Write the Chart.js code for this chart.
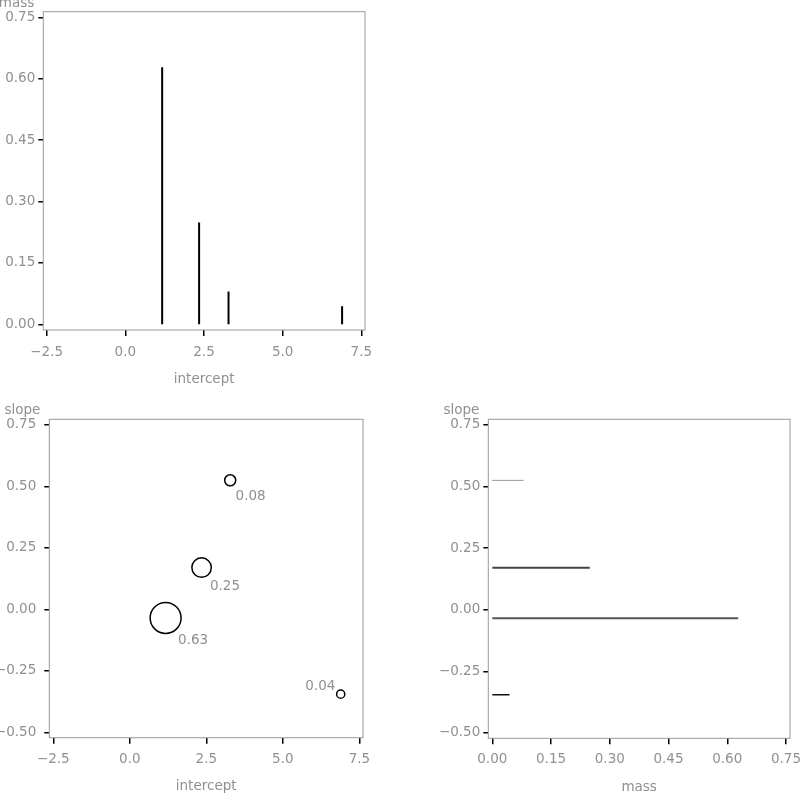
<!DOCTYPE html>
<html>
<head>
<meta charset="utf-8">
<script src="https://cdn.jsdelivr.net/npm/chart.js@4/dist/chart.umd.min.js"></script>
<style>
    body { margin: 0; background: #fff; }
    .panel { position: absolute; }
</style>
</head>
<body>
<div class="panel" style="left:0;top:0"><canvas id="massChart" width="380" height="395"></canvas></div>
<div class="panel" style="left:0;top:400px"><canvas id="slopeChart" width="380" height="395"></canvas></div>
<div class="panel" style="left:400px;top:400px"><canvas id="lineChart" width="400" height="395"></canvas></div>
<script>
// one entry per component: intercept, slope and mass
const intercepts = [1.17, 2.345, 3.28, 6.89];
const slopes = [-0.035, 0.17, 0.525, -0.345];
const masses = [0.628, 0.249, 0.08, 0.044];

const interceptTicks = [-2.5, 0, 2.5, 5, 7.5];
const massTicks = [0, 0.15, 0.3, 0.45, 0.6, 0.75];
const slopeTicks = [-0.5, -0.25, 0, 0.25, 0.5, 0.75];

// line styles for the mass segments (bottom right), same order as masses
const segmentColors = ['#555', '#444', '#999', '#111'];
const segmentWidths = [2, 2, 1, 1.5];

const GRAY = '#909090';
const FONT_FAMILY = 'DejaVu Sans';
const FONT_SIZE = 13.5;

Chart.defaults.font.family = FONT_FAMILY;
Chart.defaults.font.size = FONT_SIZE;
Chart.defaults.color = GRAY;

const fmt = (v, digits) => (v < 0 ? '\u2212' : '') + Math.abs(v).toFixed(digits);

function axis(range, ticks, digits, size, tickLength, padding) {
    return {
        type: 'linear',
        min: range[0],
        max: range[1],
        afterBuildTicks: s => { s.ticks = ticks.map(v => ({ value: v })); },
        afterFit: s => {
            // fixed box size, and no extra room asked for overhanging labels
            if (s.isHorizontal()) s.height = size;
            else s.width = size;
            s.paddingLeft = s.paddingRight = s.paddingTop = s.paddingBottom = 0;
        },
        grid: { drawOnChartArea: false, drawTicks: true, tickLength, color: '#000', lineWidth: 1.5 },
        border: { display: false },
        ticks: { padding, color: GRAY, autoSkip: false, maxRotation: 0, callback: v => fmt(v, digits) }
    };
}

// gray box round the plot area plus the two axis titles
const framePlugin = {
    id: 'frame',
    afterDraw(chart, args, opts) {
        const { ctx, chartArea: a } = chart;
        ctx.save();
        ctx.strokeStyle = '#999';
        ctx.lineWidth = 1;
        ctx.strokeRect(a.left, a.top, a.right - a.left, a.bottom - a.top);
        ctx.fillStyle = GRAY;
        ctx.font = `${FONT_SIZE}px "${FONT_FAMILY}"`;
        ctx.textAlign = 'center';
        ctx.textBaseline = 'middle';
        ctx.fillText(opts.xTitle, (a.left + a.right) / 2, a.bottom + 49);
        ctx.textAlign = 'right';
        ctx.textBaseline = 'alphabetic';
        ctx.fillText(opts.yTitle, a.left - 9, a.top - 5);
        ctx.restore();
    }
};

// mass labels next to the circles; flip to the upper left when there is no room
const bubbleLabelPlugin = {
    id: 'bubbleLabels',
    afterDatasetsDraw(chart) {
        const { ctx, chartArea: a } = chart;
        const meta = chart.getDatasetMeta(0);
        ctx.save();
        ctx.fillStyle = GRAY;
        ctx.font = `${FONT_SIZE}px "${FONT_FAMILY}"`;
        ctx.textBaseline = 'middle';
        meta.data.forEach((el, i) => {
            const text = masses[i].toFixed(2);
            const d = el.options.radius * Math.SQRT1_2;
            const w = ctx.measureText(text).width;
            if (el.x + d + 1.5 + w > a.right) {
                ctx.textAlign = 'right';
                ctx.fillText(text, el.x - d - 2.5, el.y - d - 5);
            } else {
                ctx.textAlign = 'left';
                ctx.fillText(text, el.x + d + 1.5, el.y + d + 12);
            }
        });
        ctx.restore();
    }
};

const baseOptions = {
    responsive: false,
    animation: false,
    events: [],
    plugins: { legend: { display: false }, tooltip: { enabled: false } }
};

// top left: mass spikes over intercept
new Chart(document.getElementById('massChart'), {
    type: 'scatter',
    data: {
        datasets: intercepts.map((x, i) => ({
            data: [{ x, y: 0 }, { x, y: masses[i] }],
            showLine: true,
            borderColor: '#000',
            borderWidth: 2,
            pointRadius: 0
        }))
    },
    options: {
        ...baseOptions,
        layout: { padding: { left: 0, top: 11.7, right: 15, bottom: 0 } },
        scales: {
            x: axis([-2.608, 7.618], interceptTicks, 1, 65, 6, 8),
            y: axis([-0.0139, 0.7637], massTicks, 2, 43.3, 5, 3)
        },
        plugins: { ...baseOptions.plugins, frame: { xTitle: 'intercept', yTitle: 'mass' } }
    },
    plugins: [framePlugin]
});

// bottom left: slope over intercept, circle area follows mass
new Chart(document.getElementById('slopeChart'), {
    type: 'bubble',
    data: {
        datasets: [{
            data: intercepts.map((x, i) => ({ x, y: slopes[i], r: 19.5 * Math.sqrt(masses[i]) })),
            backgroundColor: 'rgba(0,0,0,0)',
            borderColor: '#000',
            borderWidth: 1.5
        }]
    },
    options: {
        ...baseOptions,
        layout: { padding: { left: 0, top: 19.3, right: 15, bottom: 0 } },
        scales: {
            x: axis([-2.63, 7.62], interceptTicks, 1, 57.3, 6, 7.5),
            y: axis([-0.522, 0.773], slopeTicks, 2, 49.3, 5, 8)
        },
        plugins: { ...baseOptions.plugins, frame: { xTitle: 'intercept', yTitle: 'slope' } }
    },
    plugins: [framePlugin, bubbleLabelPlugin]
});

// bottom right: mass as horizontal segments at each slope
new Chart(document.getElementById('lineChart'), {
    type: 'scatter',
    data: {
        datasets: slopes.map((y, i) => ({
            data: [{ x: 0, y }, { x: masses[i], y }],
            showLine: true,
            borderColor: segmentColors[i],
            borderWidth: segmentWidths[i],
            pointRadius: 0
        }))
    },
    options: {
        ...baseOptions,
        layout: { padding: { left: 0, top: 19.3, right: 10, bottom: 0 } },
        scales: {
            x: axis([-0.0102, 0.7602], massTicks, 2, 56.7, 6, 7.5),
            y: axis([-0.522, 0.773], slopeTicks, 2, 88.3, 5, 3)
        },
        plugins: { ...baseOptions.plugins, frame: { xTitle: 'mass', yTitle: 'slope' } }
    },
    plugins: [framePlugin]
});
</script>
</body>
</html>
